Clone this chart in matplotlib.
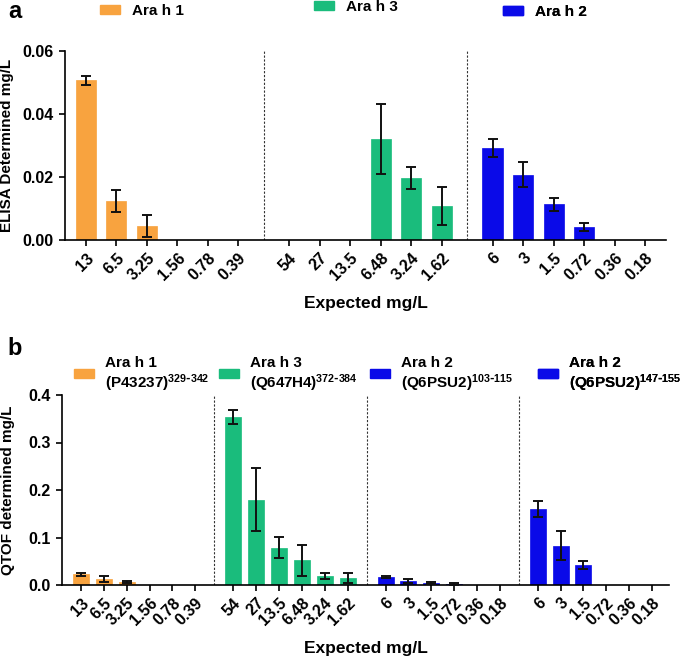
import numpy as np
import matplotlib
matplotlib.use("Agg")
import matplotlib.pyplot as plt
from matplotlib.patches import Patch, Rectangle
from matplotlib.legend_handler import HandlerPatch

# ---- data ----
elisa_groups = ["Ara h 1", "Ara h 3", "Ara h 2"]
elisa_ticks = [
    ["13", "6.5", "3.25", "1.56", "0.78", "0.39"],
    ["54", "27", "13.5", "6.48", "3.24", "1.62"],
    ["6", "3", "1.5", "0.72", "0.36", "0.18"],
]
elisa_mean = [
    [0.0507, 0.0124, 0.0043, 0, 0, 0],
    [0, 0, 0, 0.0321, 0.0197, 0.0107],
    [0.0292, 0.0207, 0.0113, 0.0041, 0, 0],
]
elisa_err = [
    [0.0015, 0.0036, 0.0035, 0, 0, 0],
    [0, 0, 0, 0.0110, 0.0034, 0.0060],
    [0.0029, 0.0040, 0.0020, 0.0014, 0, 0],
]

qtof_groups = [
    "Ara h 1\n(P43237)$^{329\\text{-}342}$",
    "Ara h 3\n(Q647H4)$^{372\\text{-}384}$",
    "Ara h 2\n(Q6PSU2)$^{103\\text{-}115}$",
    "Ara h 2\n(Q6PSU2)$^{147\\text{-}155}$",
]
qtof_ticks = [
    ["13", "6.5", "3.25", "1.56", "0.78", "0.39"],
    ["54", "27", "13.5", "6.48", "3.24", "1.62"],
    ["6", "3", "1.5", "0.72", "0.36", "0.18"],
    ["6", "3", "1.5", "0.72", "0.36", "0.18"],
]
qtof_mean = [
    [0.0227, 0.0128, 0.0057, 0, 0, 0],
    [0.354, 0.180, 0.0787, 0.0518, 0.0191, 0.0149],
    [0.0170, 0.0092, 0.0050, 0.0030, 0, 0],
    [0.1596, 0.0830, 0.0418, 0, 0, 0],
]
qtof_err = [
    [0.0030, 0.0067, 0.0025, 0, 0, 0],
    [0.014, 0.067, 0.0227, 0.033, 0.0057, 0.0100],
    [0.0020, 0.0043, 0.0020, 0.0020, 0, 0],
    [0.0170, 0.0300, 0.0090, 0, 0, 0],
]

orange = "#F8A33F"
green = "#1ABC7C"
blue = "#0A0AE8"
elisa_colors = [orange, green, blue]
qtof_colors = [orange, green, blue, blue]

FONT = ["Liberation Sans", "DejaVu Sans"]
plt.rcParams["font.family"] = FONT
plt.rcParams["font.weight"] = "bold"
plt.rcParams["mathtext.default"] = "regular"

GAP = 0.66


def draw_panel(ax, means, errs, ticks, colors, width):
    pos_all, lab_all = [], []
    for g, (m, e, t, c) in enumerate(zip(means, errs, ticks, colors)):
        pos = g * (6 + GAP) + np.arange(len(m))
        ax.bar(pos, m, width=width, color=c, edgecolor=c, linewidth=0.5,
               zorder=2)
        e = np.array(e)
        sel = e > 0
        ax.errorbar(pos[sel], np.array(m)[sel], yerr=e[sel], fmt="none",
                    ecolor="#111111", elinewidth=1.4, capsize=3.8,
                    capthick=1.4, zorder=3)
        pos_all += list(pos)
        lab_all += t
        if g > 0:
            ax.axvline(pos[0] - (1 + GAP) / 2, color="#333333",
                       linestyle=(0, (2, 1.5)), linewidth=0.8, zorder=1)
    ax.set_xticks(pos_all)
    ax.set_xticklabels(lab_all, rotation=45, ha="right",
                       rotation_mode="anchor", fontsize=11,
                       fontweight="bold")
    for s in ["top", "right"]:
        ax.spines[s].set_visible(False)
    for s in ["left", "bottom"]:
        ax.spines[s].set_linewidth(1.2)
    ax.tick_params(axis="both", length=4.5, width=1.2, labelsize=11.5)
    ax.tick_params(axis="x", pad=3)
    return pos_all


def shifted_patch(dy):
    # legend handle moved down by dy points
    def make(legend, orig_handle, xdescent, ydescent, width, height, fontsize):
        return Rectangle((-xdescent, -ydescent - dy), width, height)
    return HandlerPatch(patch_func=make)


fig = plt.figure(figsize=(6.85, 6.58), dpi=100)
W, H = 685.0, 658.0

# panel a
ax1 = fig.add_axes([65 / W, 1 - 240 / H, 601 / W, 189 / H])
p1 = draw_panel(ax1, elisa_mean, elisa_err, elisa_ticks, elisa_colors, 0.66)
ax1.set_ylim(0, 0.06)
ax1.set_yticks([0, 0.02, 0.04, 0.06])
ax1.set_yticklabels(["0.00", "0.02", "0.04", "0.06"])
ax1.set_xlim(p1[0] - 0.68, p1[-1] + 0.68)
ax1.set_ylabel("ELISA Determined mg/L", fontsize=11, fontweight="bold")
ax1.yaxis.set_label_coords(-0.085, 0.5)
ax1.set_xlabel("Expected mg/L", fontsize=12.5, fontweight="bold", va="center")
ax1.xaxis.set_label_coords(0.5, -(303 - 240) / 189)

leg_a = [(100, 11), (314, 7), (503, 12)]
for name, c, (lx, ly) in zip(elisa_groups, elisa_colors, leg_a):
    leg = ax1.legend([Patch(color=c)], [name], loc="center left",
                     bbox_to_anchor=(lx / W, 1 - ly / H),
                     bbox_transform=fig.transFigure, frameon=False,
                     borderpad=0, borderaxespad=0, handlelength=1.3,
                     handleheight=0.55, handletextpad=0.78,
                     prop={"weight": "bold", "size": 11})
    ax1.add_artist(leg)

# panel b
ax2 = fig.add_axes([62 / W, 1 - 585 / H, 607 / W, 190 / H])
p2 = draw_panel(ax2, qtof_mean, qtof_err, qtof_ticks, qtof_colors, 0.7)
ax2.set_ylim(0, 0.4)
ax2.set_yticks([0, 0.1, 0.2, 0.3, 0.4])
ax2.set_yticklabels(["0.0", "0.1", "0.2", "0.3", "0.4"])
ax2.set_xlim(p2[0] - 0.83, p2[-1] + 0.74)
ax2.set_ylabel("QTOF determined mg/L", fontsize=11, fontweight="bold")
ax2.yaxis.set_label_coords(-0.077, 0.5)
ax2.set_xlabel("Expected mg/L", fontsize=12.5, fontweight="bold", va="center")
ax2.xaxis.set_label_coords(0.5, -(648 - 585) / 190)

leg_b = [(74, 375), (219, 375), (370, 375), (538, 375)]
for name, c, (lx, ly) in zip(qtof_groups, qtof_colors, leg_b):
    leg = ax2.legend([Patch(color=c)], [name], loc="center left",
                     bbox_to_anchor=(lx / W, 1 - ly / H),
                     bbox_transform=fig.transFigure, frameon=False,
                     borderpad=0, borderaxespad=0, handlelength=1.3,
                     handleheight=0.55, handletextpad=0.72,
                     handler_map={Patch: shifted_patch(-1.3)},
                     prop={"weight": "bold", "size": 11})
    for t in leg.get_texts():
        t.set_linespacing(1.1)
    ax2.add_artist(leg)

fig.text(15 / W, 1 - 12 / H, "a", fontsize=17, fontweight="bold",
         ha="center", va="center")
fig.text(15 / W, 1 - 349 / H, "b", fontsize=17, fontweight="bold",
         ha="center", va="center")

fig.savefig("out.png", dpi=100)
